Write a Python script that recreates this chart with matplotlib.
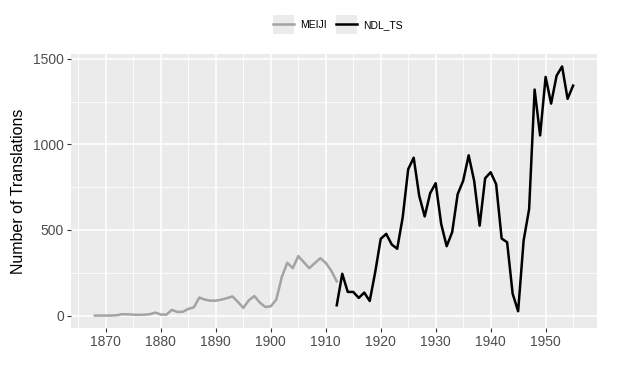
import matplotlib
matplotlib.use("Agg")
import matplotlib.pyplot as plt
from matplotlib.legend_handler import HandlerLine2D
from matplotlib.lines import Line2D
from matplotlib.patches import Rectangle

plt.rcParams['font.family'] = ['Liberation Sans', 'DejaVu Sans']

# MEIJI series
meiji_years = list(range(1868, 1913))
meiji_counts = [0, 0, 0, 0, 2, 8, 7, 5, 4, 5, 8, 17, 6, 5, 33, 21, 22, 39, 48, 105,
                93, 87, 87, 93, 101, 112, 80, 45, 89, 114, 76, 50, 54, 93, 225, 308,
                277, 347, 312, 277, 306, 335, 308, 262, 200]

# NDL_TS series
ndl_years = list(range(1912, 1956))
ndl_counts = [60, 244, 138, 138, 103, 134, 85, 254, 448, 477, 415, 390, 574, 855,
              922, 700, 579, 715, 773, 535, 405, 487, 709, 787, 936, 787, 525, 802,
              837, 767, 450, 428, 128, 25, 438, 622, 1320, 1052, 1394, 1238, 1401,
              1455, 1266, 1343]

series_names = ['MEIJI', 'NDL_TS']
series_colors = ['#A3A3A3', '#000000']

fig = plt.figure(figsize=(6.29, 3.66), dpi=100)
ax = fig.add_axes([71 / 629, (366 - 328) / 366, (597 - 71) / 629, (328 - 54) / 366])
ax.set_facecolor('#EBEBEB')

ax.plot(meiji_years, meiji_counts, color=series_colors[0], lw=1.8, solid_joinstyle='round')
ax.plot(ndl_years, ndl_counts, color=series_colors[1], lw=1.8, solid_joinstyle='round')

xmin, xmax = 1868, 1955
xr = xmax - xmin
ax.set_xlim(xmin - 0.05 * xr, xmax + 0.05 * xr)
ymax = max(max(meiji_counts), max(ndl_counts))
ax.set_ylim(-0.05 * ymax, ymax * 1.05)

ax.set_xticks(range(1870, 1960, 10))
ax.set_xticks(range(1865, 1960, 10), minor=True)
ax.set_yticks([0, 500, 1000, 1500])
ax.set_yticks([250, 750, 1250], minor=True)
ax.grid(which='major', color='white', lw=1.1)
ax.grid(which='minor', color='white', lw=0.55)
ax.set_axisbelow(True)
for s in ax.spines.values():
    s.set_visible(False)
ax.tick_params(which='major', length=3, color='#333333', labelcolor='#4D4D4D',
               labelsize=10, pad=2)
ax.tick_params(which='minor', length=0)
ax.set_ylabel('Number of Translations', fontsize=11.5, color='black', labelpad=5)


class KeyHandler(HandlerLine2D):
    def create_artists(self, legend, orig_handle, xdescent, ydescent, width, height,
                       fontsize, trans):
        bg = Rectangle((-xdescent, -ydescent - 4), width, height + 8,
                       facecolor='#EBEBEB', edgecolor='none', transform=trans)
        arts = super().create_artists(legend, orig_handle, xdescent, ydescent,
                                      width, height, fontsize, trans)
        return [bg] + arts


handles = [Line2D([], [], color=c, lw=1.8) for c in series_colors]
fig.legend(handles, series_names, loc='center', bbox_to_anchor=(338 / 629, 1 - 25 / 366),
           ncol=2, frameon=False, fontsize=7.5, handlelength=2.0, handletextpad=0.6,
           columnspacing=0.9, handler_map={Line2D: KeyHandler()})

fig.savefig('out.png', dpi=100)
